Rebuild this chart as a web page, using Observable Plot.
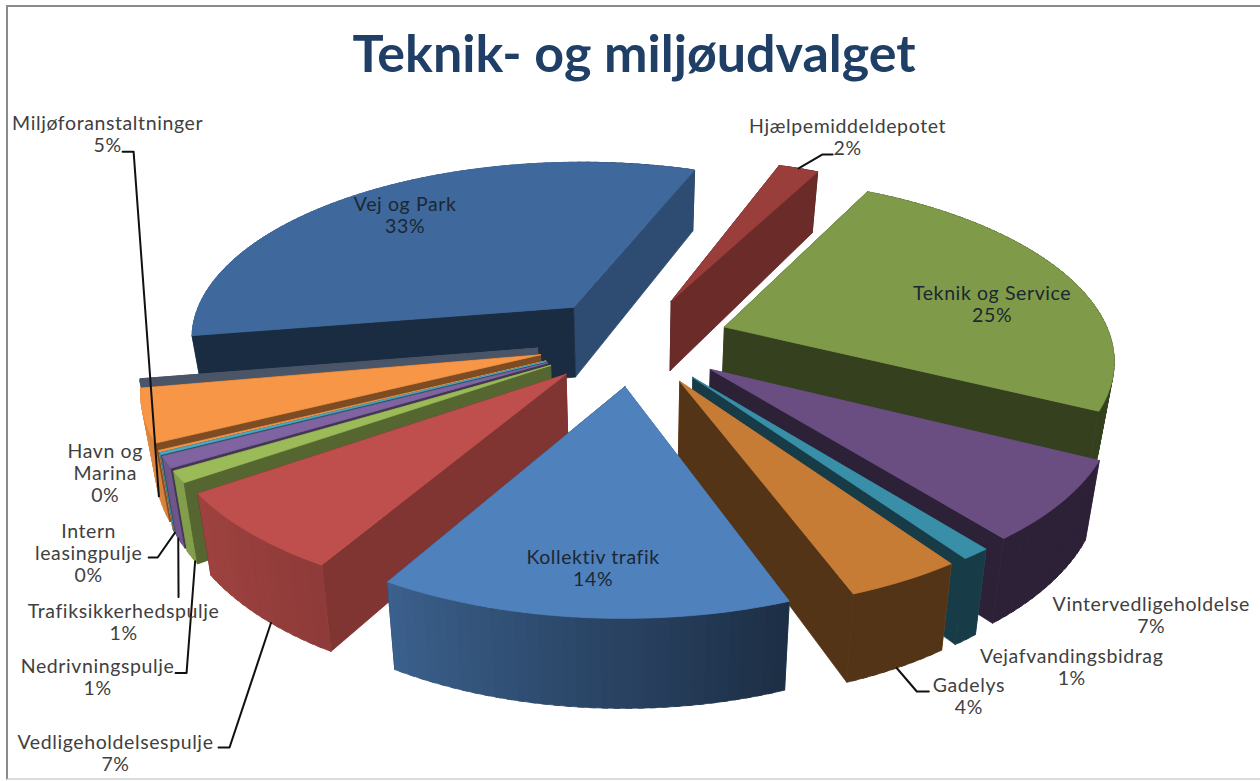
<!DOCTYPE html>
<html lang="da">
<head>
<meta charset="utf-8">
<script src="https://cdn.jsdelivr.net/npm/d3@7"></script>
<script src="https://cdn.jsdelivr.net/npm/@observablehq/plot@0.6"></script>
<style>
html,body{margin:0;padding:0;background:#fff;width:1260px;height:781px;overflow:hidden}
#frame{position:absolute;left:6px;top:5px;right:-4px;bottom:1px;border-left:2px solid #8a8a8a;border-top:2px solid #8a8a8a;border-bottom:2px solid #dcdcdc;pointer-events:none}
#title{position:absolute;left:0;top:0;width:1268px;height:95px;text-align:center;font:700 52px/105px Lato,sans-serif;color:#1f3f66}
#chart{position:absolute;left:0;top:95px}
</style>
</head>
<body>
<div id="title">Teknik- og miljøudvalget</div>
<div id="chart"></div>
<div id="frame"></div>
<script>
// ---- data ----
const names = ["Vej og Park","Hjælpemiddeldepotet","Teknik og Service","Vintervedligeholdelse","Vejafvandingsbidrag","Gadelys","Kollektiv trafik","Vedligeholdelsespulje","Nedrivningspulje","Trafiksikkerhedspulje","Intern\nleasingpulje","Havn og\nMarina","Miljøforanstaltninger",""];
const values = [33.49,2,25,7,1,4,14.1,7,1,1,0.15,0.15,4.6,0.2];
const percentLabels = ["33%","2%","25%","7%","1%","4%","14%","7%","1%","1%","0%","0%","5%",""];
const colors = ["#3f689c","#9a3e3c","#7f9a48","#6a4e82","#3a8fa8","#c77c35","#4f81bd","#be4f4c","#9bbb59","#8064a2","#4bacc6","#f79646","#f79646","#4a5568"];
const wallKeepsColour = [false,false,false,false,false,false,false,false,false,false,false,false,false,true];

// ---- label placement relative to each slice's rim point (pixels) ----
const labelOffsets = [[39,13],[49,-41],[-75,18],[89,104],[96,103],[64,106],[11,-59],[-134,211],[-81,190],[-43,150],[-72,79],[-54,1],[-36,-291],[0,0]];
const labelInk = ["#1c2733","#404040","#1c2733","#404040","#404040","#404040","#1c2733","#404040","#404040","#404040","#404040","#404040","#404040","#404040"];
// leader: [end dx, end dy, elbow dx, elbow dy] from the label, and its angle shift on the rim
const leaders = {1:[-15,27,-25,27],5:[-40,5,-52,5],7:[103,4,114,4],8:[78,6,89,6],9:[55,-15,55,-15],10:[60,25,69,25],12:[15,27,26,27]};
const leaderDepth = {1:0,5:1,7:1,8:1,9:1,10:1,12:1.12};
const leaderAngle = {7:-2,8:-1,9:1,12:1.5};

// ---- 3D view of the pie ----
const view = {cx:633, cy:340, A:387, B:178, H:72, k:0.16, explode:0.25, taper:0.03, startDeg:-99.5};
const rad = Math.PI/180;
function project(thetaDeg, midDeg, r, z){
  const px = view.explode*Math.sin(midDeg*rad) + r*Math.sin(thetaDeg*rad);
  const py = view.explode*Math.cos(midDeg*rad) + r*Math.cos(thetaDeg*rad);
  const s = 1/(1+view.k*py);
  return {x: view.cx + view.A*px*s*(1-view.taper*z), y: view.cy - view.B*py*s + z*view.H*s};
}
const shade = (c,f)=>{const q=d3.rgb(c);return d3.rgb(q.r*f,q.g*f,q.b*f).formatHex();};
const radialShade = d3.scaleLinear([100,170,260],[0.78,0.42,0.42]).clamp(true);
const rimShade = d3.scaleLinear([159,160,210,235,265],[0.42,0.36,0.75,0.84,0.96]).clamp(true);
const norm = a => ((a%360)+360)%360;

const arcs = d3.pie().sort(null).startAngle(view.startDeg*rad).endAngle((view.startDeg+360)*rad)(values);
const slices = arcs.map((a,i)=>({i,t0:a.startAngle/rad,t1:a.endAngle/rad,mid:(a.startAngle+a.endAngle)/2/rad}));

const pts=[]; let nextId=0;
function poly(list,c){const id=nextId++;[...list,list[0]].forEach(p=>pts.push({id,x:p.x,y:p.y,c}));}
const order=[...slices].sort((a,b)=>Math.cos(b.mid*rad)-Math.cos(a.mid*rad));
for(const sl of order){
  const col=colors[sl.i], faces=[], keep=wallKeepsColour[sl.i];
  const radial=(t,n)=>faces.push({n,c:keep?col:shade(col,radialShade(norm(n))),list:[project(0,sl.mid,0,0),project(t,sl.mid,1,0),project(t,sl.mid,1,1),project(0,sl.mid,0,1)]});
  radial(sl.t0,sl.t0-90); radial(sl.t1,sl.t1+90);
  const steps=Math.max(1,Math.ceil((sl.t1-sl.t0)/1.5));
  const stepDeg=(sl.t1-sl.t0)/steps;
  for(let j=0;j<steps;j++){
    const a=sl.t0+stepDeg*j,b=Math.min(sl.t1,a+stepDeg*1.5),m=a+stepDeg/2;
    faces.push({n:m,c:keep?col:shade(col,rimShade(norm(m))),list:[project(a,sl.mid,1,0),project(b,sl.mid,1,0),project(b,sl.mid,1,1),project(a,sl.mid,1,1)]});
  }
  faces.sort((p,q)=>Math.cos(q.n*rad)-Math.cos(p.n*rad)).forEach(f=>poly(f.list,f.c));
  const top=[project(0,sl.mid,0,0)];
  for(let j=0;j<=steps;j++) top.push(project(sl.t0+stepDeg*j,sl.mid,1,0));
  poly(top,col);
}

const labels=[], leaderPts=[];
slices.forEach(sl=>{
  if(!names[sl.i]) return;
  const a=project(sl.mid,sl.mid,1,0), o=labelOffsets[sl.i];
  const L={x:a.x+o[0],y:a.y+o[1],text:names[sl.i]+"\n"+percentLabels[sl.i],ink:labelInk[sl.i]};
  labels.push(L);
  const l=leaders[sl.i];
  if(l){
    const t=sl.mid+(leaderAngle[sl.i]||0);
    const b=project(t,sl.mid,1,leaderDepth[sl.i]);
    [[L.x+l[0],L.y+l[1]],[L.x+l[2],L.y+l[3]],[b.x,b.y]].forEach(q=>leaderPts.push({id:sl.i,x:q[0],y:q[1]}));
  }
});

const plot=Plot.plot({
  width:1260,height:686,margin:0,
  x:{domain:[0,1260],range:[0,1260],axis:null},
  y:{domain:[95,781],range:[0,686],axis:null},
  color:{type:"identity"},
  style:{letterSpacing:"0.6px"},
  marks:[
    Plot.line(pts,{x:"x",y:"y",z:"id",fill:"c",stroke:"c",strokeWidth:0.8}),
    Plot.line(leaderPts,{x:"x",y:"y",z:"id",stroke:"#111",strokeWidth:2}),
    Plot.text(labels,{x:"x",y:"y",text:"text",fill:"ink",lineAnchor:"top",dy:-10,fontSize:19.5,lineHeight:1.13,fontFamily:"Lato, sans-serif"})
  ]
});
document.getElementById("chart").appendChild(plot);
</script>
</body>
</html>
